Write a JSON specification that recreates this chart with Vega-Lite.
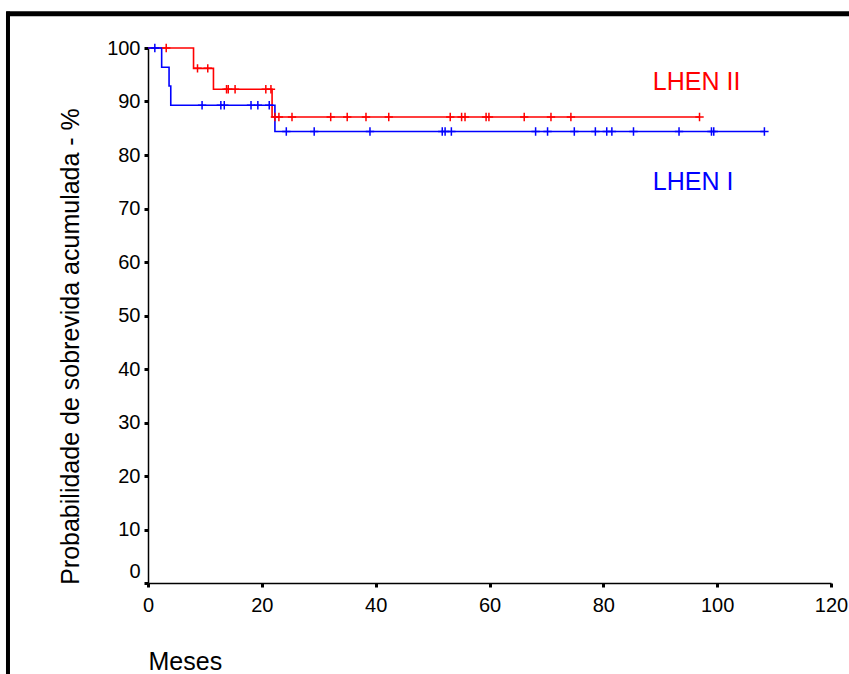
{
  "$schema": "https://vega.github.io/schema/vega-lite/v6.json",
  "width": 683,
  "height": 535,
  "autosize": {"type": "none"},
  "padding": {"left": 148, "top": 48, "right": 18, "bottom": 91},
  "background": "white",
  "config": {"view": {"stroke": null}, "font": "Liberation Sans"},
  "datasets": {
    "steps": [
      {"series": "LHEN II", "months": 0, "survival": 100},
      {"series": "LHEN II", "months": 8.0, "survival": 96.2},
      {"series": "LHEN II", "months": 11.5, "survival": 92.3},
      {"series": "LHEN II", "months": 21.8, "survival": 87.1},
      {"series": "LHEN II", "months": 96.9, "survival": 87.1},
      {"series": "LHEN I", "months": 0, "survival": 100},
      {"series": "LHEN I", "months": 2.4, "survival": 96.4},
      {"series": "LHEN I", "months": 3.7, "survival": 92.9},
      {"series": "LHEN I", "months": 4.0, "survival": 89.3},
      {"series": "LHEN I", "months": 22.3, "survival": 84.4},
      {"series": "LHEN I", "months": 108.3, "survival": 84.4}
    ],
    "censored": [
      {"series": "LHEN II", "months": 3.2, "survival": 100},
      {"series": "LHEN II", "months": 8.7, "survival": 96.2},
      {"series": "LHEN II", "months": 10.5, "survival": 96.2},
      {"series": "LHEN II", "months": 13.8, "survival": 92.3},
      {"series": "LHEN II", "months": 14.1, "survival": 92.3},
      {"series": "LHEN II", "months": 15.3, "survival": 92.3},
      {"series": "LHEN II", "months": 20.7, "survival": 92.3},
      {"series": "LHEN II", "months": 21.6, "survival": 92.3},
      {"series": "LHEN II", "months": 22.3, "survival": 87.1},
      {"series": "LHEN II", "months": 23.0, "survival": 87.1},
      {"series": "LHEN II", "months": 25.3, "survival": 87.1},
      {"series": "LHEN II", "months": 32.1, "survival": 87.1},
      {"series": "LHEN II", "months": 35.0, "survival": 87.1},
      {"series": "LHEN II", "months": 38.3, "survival": 87.1},
      {"series": "LHEN II", "months": 42.3, "survival": 87.1},
      {"series": "LHEN II", "months": 53.1, "survival": 87.1},
      {"series": "LHEN II", "months": 55.1, "survival": 87.1},
      {"series": "LHEN II", "months": 55.7, "survival": 87.1},
      {"series": "LHEN II", "months": 59.4, "survival": 87.1},
      {"series": "LHEN II", "months": 59.9, "survival": 87.1},
      {"series": "LHEN II", "months": 66.1, "survival": 87.1},
      {"series": "LHEN II", "months": 70.8, "survival": 87.1},
      {"series": "LHEN II", "months": 74.3, "survival": 87.1},
      {"series": "LHEN II", "months": 96.9, "survival": 87.1},
      {"series": "LHEN I", "months": 1.2, "survival": 100},
      {"series": "LHEN I", "months": 9.5, "survival": 89.3},
      {"series": "LHEN I", "months": 12.8, "survival": 89.3},
      {"series": "LHEN I", "months": 13.4, "survival": 89.3},
      {"series": "LHEN I", "months": 18.1, "survival": 89.3},
      {"series": "LHEN I", "months": 19.3, "survival": 89.3},
      {"series": "LHEN I", "months": 21.3, "survival": 89.3},
      {"series": "LHEN I", "months": 24.3, "survival": 84.4},
      {"series": "LHEN I", "months": 29.2, "survival": 84.4},
      {"series": "LHEN I", "months": 39.0, "survival": 84.4},
      {"series": "LHEN I", "months": 51.7, "survival": 84.4},
      {"series": "LHEN I", "months": 52.2, "survival": 84.4},
      {"series": "LHEN I", "months": 53.3, "survival": 84.4},
      {"series": "LHEN I", "months": 68.1, "survival": 84.4},
      {"series": "LHEN I", "months": 70.2, "survival": 84.4},
      {"series": "LHEN I", "months": 74.9, "survival": 84.4},
      {"series": "LHEN I", "months": 78.6, "survival": 84.4},
      {"series": "LHEN I", "months": 80.6, "survival": 84.4},
      {"series": "LHEN I", "months": 81.5, "survival": 84.4},
      {"series": "LHEN I", "months": 85.3, "survival": 84.4},
      {"series": "LHEN I", "months": 93.3, "survival": 84.4},
      {"series": "LHEN I", "months": 99.0, "survival": 84.4},
      {"series": "LHEN I", "months": 99.4, "survival": 84.4},
      {"series": "LHEN I", "months": 108.3, "survival": 84.4}
    ],
    "labels": [
      {"series": "LHEN II", "months": 88.7, "survival": 92.15},
      {"series": "LHEN I", "months": 88.7, "survival": 73.45}
    ]
  },
  "layer": [
    {
      "data": {"name": "steps"},
      "transform": [{"filter": "datum.series === 'LHEN II'"}],
      "mark": {"type": "line", "interpolate": "step-after", "strokeWidth": 1.6},
      "encoding": {
        "x": {
          "field": "months", "type": "quantitative",
          "scale": {"domain": [0, 120], "nice": false, "zero": false},
          "axis": {
            "values": [0, 20, 40, 60, 80, 100, 120],
            "title": "Meses", "grid": false,
            "domainColor": "black", "domainWidth": 1.5,
            "tickColor": "black", "tickSize": 4, "tickWidth": 3,
            "labelFontSize": 20, "labelColor": "black",
            "labelPadding": 8, "labelFlush": false, "labelOverlap": false, "labelBound": false,
            "titleFontSize": 25, "titleFontWeight": "normal", "titleColor": "black",
            "titleAnchor": "start", "titleAlign": "left", "titleX": 0, "titleY": 86, "titleBaseline": "alphabetic"
          }
        },
        "y": {
          "field": "survival", "type": "quantitative",
          "scale": {"domain": [0, 100], "nice": false},
          "axis": {
            "values": [0, 10, 20, 30, 40, 50, 60, 70, 80, 90, 100],
            "title": "Probabilidade de sobrevida acumulada - %", "grid": false,
            "domainColor": "black", "domainWidth": 1.5,
            "tickColor": "black", "tickSize": 4, "tickWidth": 3,
            "labelFontSize": 20, "labelColor": "black",
            "labelPadding": 4, "labelOverlap": false, "labelBound": false, "labelFlush": false,
            "labelOffset": {"condition": {"test": "datum.value === 0", "value": -12}, "value": 0},
            "titleFontSize": 25, "titleFontWeight": "normal", "titleColor": "black",
            "titleAngle": 270, "titleAlign": "center", "titleBaseline": "middle", "titleX": -78, "titleY": 298
          }
        },
        "color": {"field": "series", "type": "nominal", "scale": {"domain": ["LHEN II", "LHEN I"], "range": ["#FF0000", "#0000FF"]}, "legend": null}
      }
    },
    {
      "data": {"name": "steps"},
      "transform": [{"filter": "datum.series === 'LHEN I'"}],
      "mark": {"type": "line", "interpolate": "step-after", "strokeWidth": 1.6},
      "encoding": {
        "x": {"field": "months", "type": "quantitative"},
        "y": {"field": "survival", "type": "quantitative"},
        "color": {"field": "series", "type": "nominal", "legend": null}
      }
    },
    {
      "data": {"name": "censored"},
      "mark": {"type": "point", "shape": "M0,-1V1M-1,0H1", "filled": false, "size": 70, "strokeWidth": 1.5, "opacity": 1},
      "encoding": {
        "x": {"field": "months", "type": "quantitative"},
        "y": {"field": "survival", "type": "quantitative"},
        "color": {"field": "series", "type": "nominal", "legend": null}
      }
    },
    {
      "data": {"name": "labels"},
      "mark": {"type": "text", "align": "left", "baseline": "alphabetic", "fontSize": 25},
      "encoding": {
        "x": {"field": "months", "type": "quantitative"},
        "y": {"field": "survival", "type": "quantitative"},
        "text": {"field": "series"},
        "color": {"field": "series", "type": "nominal", "legend": null}
      }
    },
    {
      "data": {"values": [{}]},
      "mark": {"type": "rule", "color": "black", "strokeWidth": 5, "clip": false},
      "encoding": {
        "x": {"datum": -24.9},
        "x2": {"datum": 125},
        "y": {"datum": 106.4}
      }
    },
    {
      "data": {"values": [{}]},
      "mark": {"type": "rule", "color": "black", "strokeWidth": 4, "clip": false},
      "encoding": {
        "x": {"datum": -24.6},
        "y": {"datum": -20},
        "y2": {"datum": 106.8}
      }
    }
  ]
}
